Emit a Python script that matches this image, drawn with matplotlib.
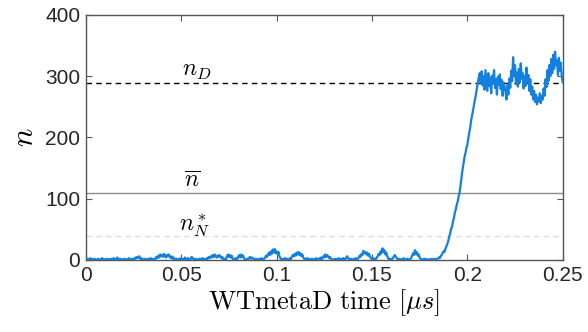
import numpy as np
import matplotlib
matplotlib.use("Agg")
import matplotlib.pyplot as plt

plt.rcParams['font.family'] = ['Liberation Sans', 'DejaVu Sans']
plt.rcParams['mathtext.fontset'] = 'cm'

# time grid in microseconds (step 0.0005)
t_start, t_stop, t_step = 0.0, 0.25, 0.0005

# number of contacts n (20 samples per 0.01 us)
n_values = [
    1, 0, 2, 0, 1, 3, 0, 1, 0, 2, 1, 0, 0, 2, 1, 0, 1, 3, 0, 1,
    0, 1, 2, 0, 1, 0, 2, 1, 0, 3, 1, 0, 2, 4, 1, 0, 2, 1, 0, 1,
    0, 2, 1, 0, 1, 3, 0, 1, 2, 0, 1, 3, 2, 5, 3, 4, 6, 2, 3, 1,
    0, 1, 2, 0, 1, 0, 2, 1, 3, 0, 1, 2, 0, 2, 5, 3, 7, 4, 9, 6,
    8, 5, 10, 7, 4, 8, 6, 9, 5, 3, 6, 2, 4, 1, 0, 2, 1, 0, 2, 1,
    3, 1, 0, 2, 4, 1, 0, 3, 1, 0, 2, 5, 3, 1, 0, 2, 1, 0, 1, 2,
    0, 1, 3, 0, 2, 1, 0, 3, 2, 5, 3, 6, 4, 8, 5, 9, 6, 4, 7, 5,
    8, 6, 3, 5, 1, 2, 0, 1, 6, 9, 5, 8, 4, 7, 2, 1, 0, 3, 1, 2,
    6, 8, 4, 9, 5, 7, 2, 0, 1, 2, 0, 3, 5, 2, 4, 3, 1, 0, 2, 1,
    0, 2, 1, 0, 3, 1, 0, 2, 4, 7, 5, 9, 12, 8, 14, 10, 17, 12, 18, 11,
    14, 10, 13, 6, 3, 1, 0, 2, 1, 3, 0, 2, 1, 0, 3, 1, 5, 8, 6, 10,
    7, 12, 9, 13, 8, 11, 6, 9, 4, 2, 0, 1, 3, 0, 2, 1, 0, 2, 1, 0,
    2, 1, 3, 0, 1, 2, 4, 0, 3, 6, 4, 9, 5, 8, 6, 3, 5, 2, 1, 0,
    1, 0, 2, 1, 0, 3, 1, 0, 2, 1, 3, 0, 1, 4, 6, 3, 1, 0, 2, 1,
    0, 2, 1, 3, 0, 1, 4, 7, 5, 10, 8, 15, 11, 13, 9, 12, 7, 10, 5, 3,
    1, 3, 0, 2, 1, 4, 6, 10, 8, 14, 11, 19, 13, 16, 9, 12, 6, 3, 1, 0,
    2, 1, 3, 6, 8, 5, 3, 1, 0, 2, 1, 0, 1, 3, 0, 1, 0, 2, 1, 0,
    1, 3, 6, 11, 8, 16, 10, 13, 7, 9, 4, 2, 0, 1, 0, 2, 0, 1, 0, 1,
    0, 1, 0, 2, 0, 1, 2, 0, 1, 2, 4, 3, 6, 8, 11, 14, 13, 18, 22, 26,
    31, 38, 43, 51, 54, 63, 69, 78, 83, 91, 96, 105, 111, 123, 134, 148, 157, 168, 174, 183,
    188, 198, 208, 216, 228, 236, 245, 255, 262, 270, 280, 290, 298, 305, 290, 308, 285, 300, 278, 310,
    292, 276, 305, 284, 298, 272, 301, 288, 310, 281, 295, 270, 299, 286, 303, 279, 294, 268, 290, 283,
    275, 262, 285, 270, 296, 281, 309, 292, 331, 300, 318, 287, 306, 283, 312, 290, 321, 296, 305, 280,
    300, 284, 314, 291, 302, 276, 295, 270, 283, 262, 276, 258, 270, 254, 265, 259, 272, 256, 268, 262,
    280, 268, 295, 282, 310, 292, 318, 300, 328, 305, 335, 312, 340, 318, 326, 302, 330, 309, 322, 300,
    290,
]

# reference levels
n_D = 289
n_bar = 109
n_N_star = 39

x_ticks = [0, 0.05, 0.1, 0.15, 0.2, 0.25]
x_tick_labels = ['0', '0.05', '0.1', '0.15', '0.2', '0.25']
y_ticks = [0, 100, 200, 300, 400]
y_tick_labels = ['0', '100', '200', '300', '400']

n_arr = np.array(n_values, dtype=float)
t_arr = t_start + t_step * np.arange(len(n_arr))

fig = plt.figure(figsize=(5.88, 3.32), dpi=100)
ax = fig.add_axes([0.146, 0.217, 0.811, 0.738])

ax.axhline(n_N_star, color='#dddddd', lw=1.0, ls=(0, (4, 3)), zorder=1)
ax.axhline(n_bar, color='#8c8c8c', lw=1.0, zorder=1)
ax.axhline(n_D, color='black', lw=1.0, ls=(0, (4, 3)), zorder=1)

ax.plot(t_arr, n_arr, color='#1380e0', lw=1.6, zorder=3)

ax.text(0.058, 291, r'$n_D$', fontsize=17, ha='center', va='bottom')
ax.text(0.0555, 110, r'$\overline{n}$', fontsize=17, ha='center', va='bottom')
ax.text(0.057, 35, r'$n_N^*$', fontsize=17, ha='center', va='bottom')

ax.set_xlim(0, 0.25)
ax.set_ylim(0, 400)
ax.set_xticks(x_ticks)
ax.set_xticklabels(x_tick_labels)
ax.set_yticks(y_ticks)
ax.set_yticklabels(y_tick_labels)

ax.tick_params(direction='in', length=4, width=0.8, top=True, right=True,
               labelsize=15, colors='#555555', labelcolor='#262626', pad=4)
for s in ax.spines.values():
    s.set_color('#555555')
    s.set_linewidth(1.0)

ax.set_xlabel(r'$\mathrm{WTmetaD\ time\ }[\mu s]$', fontsize=19, labelpad=2)
ax.set_ylabel(r'$n$', fontsize=22, labelpad=4)

fig.savefig('out.png', dpi=100)
